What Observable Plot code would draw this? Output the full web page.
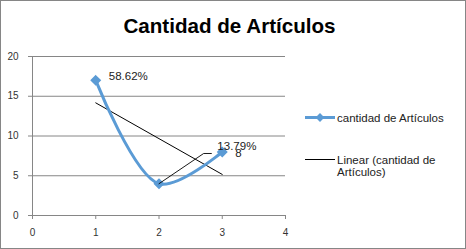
<!DOCTYPE html>
<html>
<head>
<meta charset="utf-8">
<script src="https://cdn.jsdelivr.net/npm/d3@7"></script>
<script src="https://cdn.jsdelivr.net/npm/@observablehq/plot@0.6"></script>
<style>
  html, body { margin: 0; padding: 0; background: #fff; }
  svg { display: block; }
</style>
</head>
<body>
<div id="chart"></div>
<script>
// ---- data ----
const title = "Cantidad de Artículos";
const seriesName = "cantidad de Artículos";
const trendName = ["Linear (cantidad de", "Artículos)"];
const xValues = [1, 2, 3];
const counts = [17, 4, 8];
const pointLabels = ["58.62%", "13.79%", "8"];
const xTicks = [0, 1, 2, 3, 4];
const yTicks = [0, 5, 10, 15, 20];
// leader line for the moved label of the 2nd point (data units)
const leaderX = [2, 2.706, 2.828];
const leaderY = [4, 7.8, 7.8];

const blue = "#5B9BD5";
const grey = "#868686";
const font = "Liberation Sans, Arial, sans-serif";

const data = xValues.map((x, i) => ({x, y: counts[i], label: pointLabels[i]}));
const leader = leaderX.map((x, i) => ({x, y: leaderY[i]}));

const chart = Plot.plot({
  width: 466,
  height: 249,
  marginLeft: 32,
  marginRight: 181,
  marginTop: 56,
  marginBottom: 34,
  style: {fontFamily: font, fontSize: "10px", background: "#fff", color: "#333"},
  x: {domain: [0, 4]},
  y: {domain: [0, 20]},
  marks: [
    Plot.ruleY(yTicks, {stroke: grey, strokeWidth: 1}),
    Plot.ruleX([0], {stroke: grey, strokeWidth: 1}),
    Plot.axisY({ticks: yTicks, tickFormat: d3.format("d"), tickSize: 4, tickPadding: 10, stroke: grey, fill: "#333", label: null}),
    Plot.axisX({ticks: xTicks, tickFormat: d3.format("d"), tickSize: 4, tickPadding: 9, stroke: grey, fill: "#333", label: null}),
    Plot.linearRegressionY(data, {x: "x", y: "y", stroke: "black", strokeWidth: 1, ci: 0}),
    Plot.line(data, {x: "x", y: "y", curve: "catmull-rom", stroke: blue, strokeWidth: 3}),
    Plot.dot(data, {x: "x", y: "y", symbol: "diamond2", r: 4, fill: blue, stroke: blue}),
    Plot.line(leader, {x: "x", y: "y", stroke: "black", strokeWidth: 0.9}),
    Plot.text([data[0]], {x: "x", y: "y", text: "label", textAnchor: "start", dx: 13, dy: -4, fontSize: 11.5, fill: "#222"}),
    Plot.text([data[2]], {x: "x", y: "y", text: "label", textAnchor: "start", dx: 13, dy: 1, fontSize: 11.5, fill: "#222"}),
    Plot.text([{x: leaderX[2], y: leaderY[2], label: data[1].label}], {x: "x", y: "y", text: "label", textAnchor: "start", dx: 6, dy: -7, fontSize: 11.5, fill: "#222"})
  ]
});

document.getElementById("chart").appendChild(chart);
const svg = d3.select(chart);

// outer border
svg.append("rect").attr("x", 0.5).attr("y", 0.5).attr("width", 465).attr("height", 248)
  .attr("fill", "none").attr("stroke", grey);

// title
svg.append("text").text(title)
  .attr("x", 229.5).attr("y", 33).attr("text-anchor", "middle")
  .attr("font-family", font).attr("font-weight", "bold").attr("font-size", 20.6).attr("fill", "#000");

// legend
const lg = svg.append("g").attr("font-family", font).attr("font-size", 11.5).attr("fill", "#222")
  .attr("text-anchor", "start");
lg.append("line").attr("x1", 305).attr("x2", 335).attr("y1", 117.5).attr("y2", 117.5)
  .attr("stroke", blue).attr("stroke-width", 3);
lg.append("path").attr("d", d3.symbol(d3.symbolDiamond2, 50)()).attr("transform", "translate(320,117.5)")
  .attr("fill", blue);
lg.append("text").text(seriesName).attr("x", 337).attr("y", 117.5).attr("dy", "0.35em");
lg.append("line").attr("x1", 305).attr("x2", 335).attr("y1", 159.5).attr("y2", 159.5)
  .attr("stroke", "black").attr("stroke-width", 1);
lg.append("text").text(trendName[0]).attr("x", 337).attr("y", 159.5).attr("dy", "0.35em");
lg.append("text").text(trendName[1]).attr("x", 337).attr("y", 172).attr("dy", "0.35em");
</script>
</body>
</html>
